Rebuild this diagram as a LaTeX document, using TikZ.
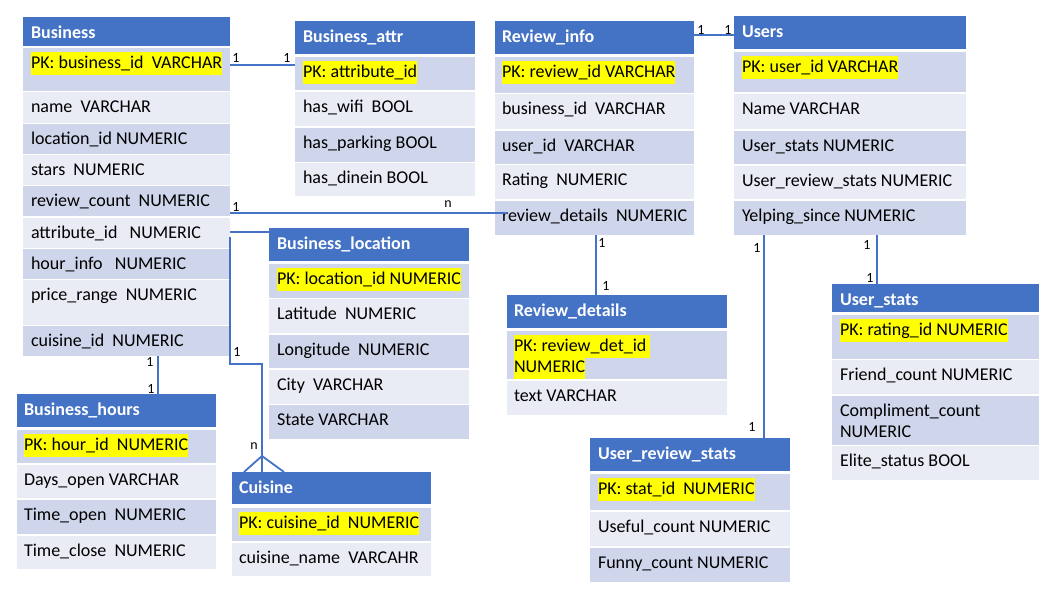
\documentclass[tikz,border=0pt]{standalone}
\usepackage{fontspec}
\setmainfont{Carlito}
\usetikzlibrary{calc}
\definecolor{hdr}{HTML}{4472C4}
\definecolor{rowd}{HTML}{CFD5EA}
\definecolor{rowl}{HTML}{E9EBF5}
\definecolor{hly}{HTML}{FFFF00}
\newcommand\hl[1]{{\setlength\fboxsep{0pt}\colorbox{hly}{\rule[-6.5pt]{0pt}{22.5pt}#1}}}
\tikzset{
  cellbox/.style={anchor=north west,inner sep=0pt,outer sep=0pt,draw=none},
  celltext/.style={anchor=base west,inner sep=0pt,outer sep=0pt,font=\fontsize{18}{21}\selectfont},
  hdrtext/.style={anchor=base west,inner sep=0pt,outer sep=0pt,text=white,font=\fontsize{18}{21}\selectfont\bfseries},
  conn/.style={draw=hdr,line width=1.8pt},
  lbl/.style={inner sep=0pt,font=\fontsize{14}{16}\selectfont}
}
\newcommand\erow[8]{%
  \node[cellbox,fill=#6,minimum width={#3-#2},minimum height={#5-#4}] (#1) at (#2,#4) {};
  \node[celltext] (#1t) at (#7,{#4+20}) {#8};}
\newcommand\ehdr[7]{%
  \node[cellbox,fill=hdr,minimum width={#3-#2},minimum height={#5-#4}] (#1) at (#2,#4) {};
  \node[hdrtext] (#1t) at (#6,{#4+21}) {#7};}
\begin{document}
\begin{tikzpicture}[x=1pt,y=-1pt]
\useasboundingbox[fill=white] (0,0) rectangle (1057,597);
% Business
\ehdr{b0}{23}{230}{17}{46}{31}{Business}
\erow{b1}{23}{230}{48}{91}{rowd}{31}{\hl{PK: business\_id~ VARCHAR}}
\erow{b2}{23}{230}{92}{123}{rowl}{31}{name~ VARCHAR}
\erow{b3}{23}{230}{124}{154}{rowd}{31}{location\_id~NUMERIC}
\erow{b4}{23}{230}{155}{185}{rowl}{31}{stars~ NUMERIC}
\erow{b5}{23}{230}{186}{216}{rowd}{31}{review\_count~ NUMERIC}
\erow{b6}{23}{230}{218}{248}{rowl}{31}{attribute\_id~~ NUMERIC}
\erow{b7}{23}{230}{249}{279}{rowd}{31}{hour\_info~~ NUMERIC}
\erow{b8}{23}{230}{280}{325}{rowl}{31}{price\_range~ NUMERIC}
\erow{b9}{23}{230}{326}{356}{rowd}{31}{cuisine\_id~ NUMERIC}
% Business_attr
\ehdr{a0}{295}{475}{21}{54}{303}{Business\_attr}
\erow{a1}{295}{475}{57}{90}{rowd}{303}{\hl{PK: attribute\_id}}
\erow{a2}{295}{475}{92}{126}{rowl}{303}{has\_wifi~ BOOL}
\erow{a3}{295}{475}{128}{162}{rowd}{303}{has\_parking BOOL}
\erow{a4}{295}{475}{163}{196}{rowl}{303}{has\_dinein BOOL}
% Business_location
\ehdr{l0}{269}{469}{228}{261}{277}{Business\_location}
\erow{l1}{269}{469}{264}{298}{rowd}{277}{\hl{PK: location\_id NUMERIC}}
\erow{l2}{269}{469}{299}{333}{rowl}{277}{Latitude~ NUMERIC}
\erow{l3}{269}{469}{335}{368}{rowd}{277}{Longitude~ NUMERIC}
\erow{l4}{269}{469}{370}{404}{rowl}{277}{City~ VARCHAR}
\erow{l5}{269}{469}{405}{439}{rowd}{277}{State VARCHAR}
% Review_info
\ehdr{r0}{495}{694}{21}{54}{502}{Review\_info}
\erow{r1}{495}{694}{57}{93}{rowd}{502}{\hl{PK: review\_id VARCHAR}}
\erow{r2}{495}{694}{94}{129}{rowl}{502}{business\_id~ VARCHAR}
\erow{r3}{495}{694}{131}{164}{rowd}{502}{user\_id~ VARCHAR}
\erow{r4}{495}{694}{165}{199}{rowl}{502}{Rating~ NUMERIC}
\erow{r5}{495}{694}{201}{235}{rowd}{502}{review\_details~ NUMERIC}
% Users
\ehdr{u0}{734}{966}{16}{49}{742}{Users}
\erow{u1}{734}{966}{52}{92}{rowd}{742}{\hl{PK: user\_id VARCHAR}}
\erow{u2}{734}{966}{94}{129}{rowl}{742}{Name VARCHAR}
\erow{u3}{734}{966}{131}{164}{rowd}{742}{User\_stats NUMERIC}
\erow{u4}{734}{966}{166}{199}{rowl}{742}{User\_review\_stats NUMERIC}
\erow{u5}{734}{966}{201}{235}{rowd}{742}{Yelping\_since NUMERIC}
% Review_details
\ehdr{d0}{507}{727}{295}{328}{514}{Review\_details}
\erow{d1}{507}{727}{331}{379}{rowd}{514}{\vtop{\baselineskip=21pt\lineskiplimit=-30pt\hbox{\hl{PK: review\_det\_id~}}\hbox{\hl{NUMERIC}}}}
\erow{d2}{507}{727}{381}{415}{rowl}{514}{text VARCHAR}
% User_stats
\ehdr{s0}{832}{1039}{284}{312}{840}{User\_stats}
\erow{s1}{832}{1039}{315}{359}{rowd}{840}{\hl{PK: rating\_id NUMERIC}}
\erow{s2}{832}{1039}{360}{394}{rowl}{840}{Friend\_count NUMERIC}
\erow{s3}{832}{1039}{396}{445}{rowd}{840}{\vtop{\baselineskip=21pt\hbox{Compliment\_count}\hbox{NUMERIC}}}
\erow{s4}{832}{1039}{446}{480}{rowl}{840}{Elite\_status BOOL}
% User_review_stats
\ehdr{v0}{590}{790}{438}{471}{598}{User\_review\_stats}
\erow{v1}{590}{790}{474}{510}{rowd}{598}{\hl{PK: stat\_id~ NUMERIC}}
\erow{v2}{590}{790}{512}{546}{rowl}{598}{Useful\_count NUMERIC}
\erow{v3}{590}{790}{548}{582}{rowd}{598}{Funny\_count NUMERIC}
% Business_hours
\ehdr{h0}{17}{216}{394}{427}{24}{Business\_hours}
\erow{h1}{17}{216}{430}{463}{rowd}{24}{\hl{PK: hour\_id~ NUMERIC}}
\erow{h2}{17}{216}{465}{498}{rowl}{24}{Days\_open VARCHAR}
\erow{h3}{17}{216}{500}{534}{rowd}{24}{Time\_open~ NUMERIC}
\erow{h4}{17}{216}{536}{569}{rowl}{24}{Time\_close~ NUMERIC}
% Cuisine
\ehdr{c0}{232}{431}{472}{504}{239}{Cuisine}
\erow{c1}{232}{431}{508}{541}{rowd}{239}{\hl{PK: cuisine\_id~ NUMERIC}}
\erow{c2}{232}{431}{543}{576}{rowl}{239}{cuisine\_name~ VARCAHR}
% connectors
\draw[conn] ([yshift=4.5pt]b1.east) -- ([yshift=4.5pt]b1.east -| a1.west);
\draw[conn] ([yshift=3pt]b5.south east) -- ([yshift=3pt,xshift=5pt]b5.south east -| r5t.west);
\draw[conn] ([yshift=1pt]b6.east) -- ([yshift=1pt]b6.east -| l0.west);
\coordinate (cbend) at (262,364);
\draw[conn] ([yshift=-4pt]b6.east) |- (cbend) -- (cbend |- c0.north);
\draw[conn] ([xshift=-18pt]cbend |- c0.north) -- ([yshift=16pt]cbend |- c0.north) -- ([xshift=22pt]cbend |- c0.north);
\draw[conn] ([xshift=135pt]b9.south west) -- ([xshift=135pt]b9.south west |- h0.north);
\draw[conn] ([yshift=2.5pt]r0.east) -- ([yshift=2.5pt]r0.east -| u0.west);
\draw[conn] ([xshift=1.5pt]r5.south) -- ([xshift=1.5pt]r5.south |- d0.north);
\draw[conn] ([xshift=30pt]u5.south west) -- ([xshift=30pt]u5.south west |- v0.north);
\draw[conn] ([xshift=143pt]u5.south west) -- ([xshift=143pt]u5.south west |- s0.north);
% cardinality labels
\node[lbl] (k1) at (236,58) {1};
\node[lbl] (k2) at (287,58) {1};
\node[lbl] (k3) at (236,207) {1};
\node[lbl] (k4) at (448,204) {n};
\node[lbl] (k5) at (237,352) {1};
\node[lbl] (k6) at (254,446) {n};
\node[lbl] (k7) at (150,362) {1};
\node[lbl] (k8) at (151,389) {1};
\node[lbl] (k9) at (701,30) {1};
\node[lbl] (k10) at (728,30) {1};
\node[lbl] (k11) at (602,243) {1};
\node[lbl] (k12) at (606,286) {1};
\node[lbl] (k13) at (757,248) {1};
\node[lbl] (k14) at (752,427) {1};
\node[lbl] (k15) at (867,245) {1};
\node[lbl] (k16) at (870,278) {1};
\end{tikzpicture}
\end{document}
